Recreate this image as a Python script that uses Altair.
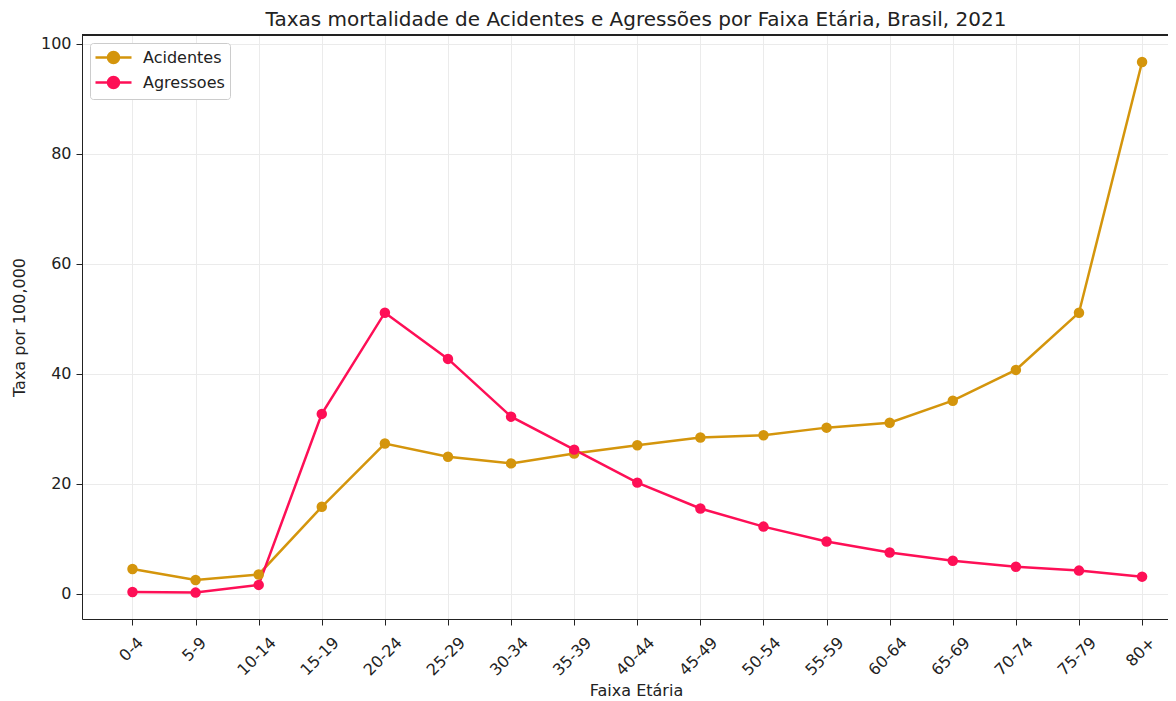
import altair as alt
import pandas as pd

faixas = ["0-4", "5-9", "10-14", "15-19", "20-24", "25-29", "30-34", "35-39",
          "40-44", "45-49", "50-54", "55-59", "60-64", "65-69", "70-74", "75-79", "80+"]
acidentes = [4.5, 2.5, 3.5, 15.8, 27.3, 24.9, 23.7, 25.5, 27.0, 28.4, 28.8,
             30.2, 31.1, 35.1, 40.7, 51.1, 96.7]
agressoes = [0.3, 0.2, 1.6, 32.7, 51.1, 42.7, 32.2, 26.2, 20.2, 15.5, 12.2,
             9.5, 7.5, 6.0, 4.9, 4.2, 3.1]
series = ["Acidentes", "Agressoes"]
cores = ["#d4950c", "#fe0f56"]

rows = []
for i, f in enumerate(faixas):
    rows.append({"idx": i, "faixa": f, "serie": series[0], "taxa": acidentes[i]})
    rows.append({"idx": i, "faixa": f, "serie": series[1], "taxa": agressoes[i]})
df = pd.DataFrame(rows)

W = 1086
H = 584
FONT = "DejaVu Sans"
TXT = "#222222"

label_expr = "[" + ",".join('"%s"' % f for f in faixas) + "][datum.value]"

symbol_path = ("M-1.125,0L3.375,0"
               "M0.435,0A0.69,0.69 0 1,0 1.815,0A0.69,0.69 0 1,0 0.435,0Z")

x = alt.X("idx:Q",
          scale=alt.Scale(domain=[-0.8, -0.8 + W / 63.1], nice=False, zero=False),
          axis=alt.Axis(title="Faixa Etária", values=list(range(len(faixas))),
                        labelExpr=label_expr, labelAngle=315, labelAlign="right",
                        labelBaseline="top",
                        labelOffset={"condition": [{"test": "datum.value == 16", "value": 4.5},
                                                   {"test": "datum.value <= 1", "value": 2}],
                                     "value": 8.5},
                        labelFont=FONT,
                        labelFontSize=16, labelColor=TXT, titleFont=FONT,
                        titleFontSize=16, titleFontWeight="normal", titleColor=TXT,
                        titleX=554, titlePadding=4,
                        grid=True, gridColor="#ebebeb", domainColor=TXT,
                        tickColor=TXT, tickSize=6, labelPadding=9))
y = alt.Y("taxa:Q",
          scale=alt.Scale(domain=[-4.6, 101.6], nice=False, zero=False),
          axis=alt.Axis(title="Taxa por 100,000", values=[0, 20, 40, 60, 80, 100],
                        labelFont=FONT, labelFontSize=16, labelColor=TXT,
                        titleFont=FONT, titleFontSize=16, titleFontWeight="normal",
                        titleColor=TXT, titlePadding=13,
                        grid=True, gridColor="#ebebeb", domainColor=TXT,
                        tickColor=TXT, tickSize=6, labelPadding=5))
color = alt.Color("serie:N", scale=alt.Scale(domain=series, range=cores),
                  legend=alt.Legend(title=None, orient="none", legendX=8, legendY=8,
                                    symbolType=symbol_path, symbolSize=256,
                                    symbolStrokeWidth=2.5, labelFont=FONT,
                                    labelFontSize=16, labelColor=TXT,
                                    rowPadding=2, padding=5, labelOffset=29,
                                    strokeColor="#cccccc", cornerRadius=3,
                                    fillColor="white"))

lines = alt.Chart(df).mark_line(strokeWidth=2.5, point=alt.OverlayMarkDef(filled=True, size=110, opacity=1)).encode(
    x=x, y=y, color=color, order="idx:Q")

top = alt.Chart(df).mark_rule(color=TXT, strokeWidth=1.2).encode(
    x=alt.value(0), x2=alt.value(W), y=alt.value(0))

chart = alt.layer(lines, top).properties(
    width=W, height=H,
    autosize=alt.AutoSizeParams(type="none"),
    padding={"left": 74, "top": 27, "right": 0, "bottom": 82},
    title=alt.Title("Taxas mortalidade de Acidentes e Agressões por Faixa Etária, Brasil, 2021",
                    font=FONT, fontSize=20, fontWeight="normal", color=TXT,
                    anchor="middle", dx=11, offset=4)
).configure_view(stroke=None).configure(background="white")

chart.save("out.html", embed_options={"renderer": "svg", "actions": False})
